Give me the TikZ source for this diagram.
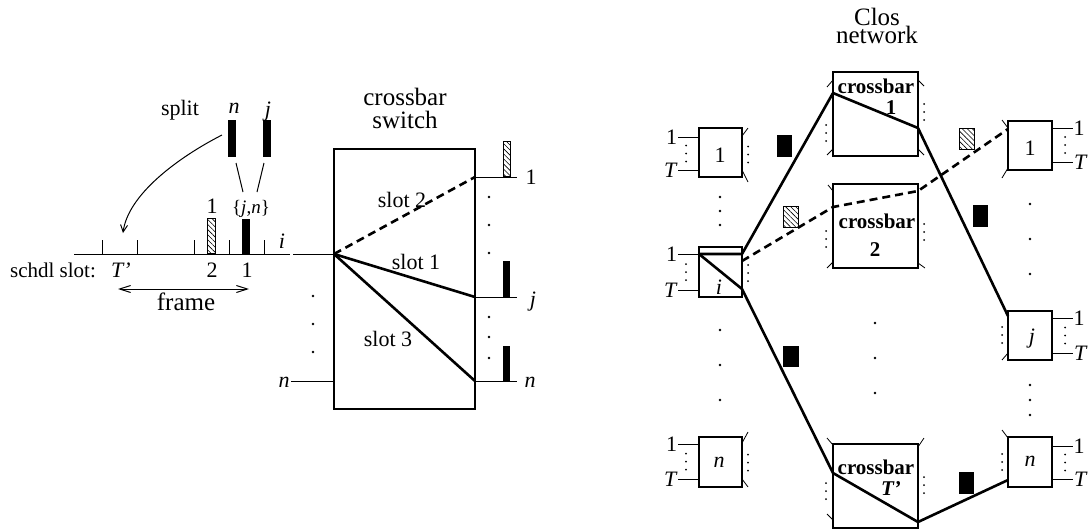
\documentclass[tikz,border=0pt]{standalone}
\usepackage{fontspec}
\setmainfont{Liberation Serif}
\usetikzlibrary{arrows.meta,patterns.meta}
\tikzset{
  wire/.style={line width=1pt},
  heavy/.style={line width=2.6pt, line join=round},
  heavydash/.style={line width=2.6pt, line join=round, dash pattern=on 8pt off 5pt},
  boxst/.style={draw, line width=1.2pt, inner sep=0pt},
  solidbar/.style={fill=black, inner sep=0pt},
  hatchbar/.style={draw, line width=0.7pt, inner sep=0pt, pattern={Lines[angle=-45,distance=3.6pt,line width=0.6pt]}},
  txt/.style={inner sep=0pt, font=\fontsize{22}{24}\selectfont},
  titletxt/.style={inner sep=0pt, align=center, font=\fontsize{25}{#1}\selectfont},
  boldtxt/.style={inner sep=0pt, font=\fontsize{21}{22}\selectfont\bfseries},
  tick/.style={line width=0.8pt},
  smalldots/.pic={\fill (0,-8) circle (1pt) (0,0) circle (1pt) (0,8) circle (1pt);}
}
\begin{document}
\begin{tikzpicture}[x=1pt,y=-1pt]
\useasboundingbox (0,0) rectangle (1088,531);

% ================= left: schedule axis =================
\coordinate (ax0) at (74,254);
\coordinate (ax1) at (290,254);
\draw[wire] (ax0) -- (ax1);
\foreach \t in {102,137,194,229,264} \draw[wire] (\t,240) -- (\t,254);
\node[hatchbar, minimum width=8, minimum height=35, anchor=south] (hq) at (211,254) {};
\node[solidbar, minimum width=8, minimum height=35, anchor=south] (bq) at (246,254) {};
\node[txt] (lab1h) at (212,206.5) {1};
\node[txt, font=\fontsize{19}{20}\selectfont] (labjn) at (251,209) {\{\textit{j},\textit{n}\}};
\node[txt] (labi) at (282,241.5) {\textit{i}};
\node[txt, font=\fontsize{21}{22}\selectfont] (schdl) at (53,270) {schdl slot:};
\node[txt] (labT) at (121,270) {\textit{T'}};
\node[txt] (lab2) at (212,270) {2};
\node[txt] (lab1b) at (247,270) {1};
\coordinate (fr0) at (118,289);
\coordinate (fr1) at (249,289);
\draw[wire, {Straight Barb[length=11pt,width=7pt]}-{Straight Barb[length=11pt,width=7pt]}] (fr0) -- (fr1);
\node[txt, font=\fontsize{25}{26}\selectfont] (frame) at (186,302) {frame};

% split
\node[txt] (split) at (180,110) {split};
\node[txt] (labn) at (234,108) {\textit{n}};
\node[txt] (labj) at (268,112) {\textit{j}};
\node[solidbar, minimum width=8, minimum height=37] (barn) at (232,138.5) {};
\node[solidbar, minimum width=8, minimum height=37] (barj) at (267,138.5) {};
\coordinate (sa0) at (236,163); \coordinate (sa1) at (243,192);
\coordinate (sb0) at (264,163); \coordinate (sb1) at (257,192);
\draw[wire] (sa0) -- (sa1);
\draw[wire] (sb0) -- (sb1);
\coordinate (cv0) at (222,135);
\coordinate (cv1) at (123,233);
\draw[wire, -{Straight Barb[length=7pt,width=7pt]}] (cv0) .. controls (177,158) and (128,195) .. (cv1);

% ================= crossbar switch =================
\node[boxst, minimum width=141, minimum height=260] (xs) at (404.5,279) {};
\node[titletxt=22.5] (xstitle) at (405,108.5) {crossbar\\switch};
\coordinate (iin) at (293,254);
\coordinate (nin) at (291,381);
\coordinate (xsi) at (334,254);
\coordinate (xsn) at (334,381);
\coordinate (xo1) at (475,177);
\coordinate (xoj) at (475,297);
\coordinate (xon) at (475,381);
\coordinate (xo1e) at (517,177);
\coordinate (xoje) at (517,297);
\coordinate (xone) at (517,381);
\draw[wire] (iin) -- (xsi);
\draw[wire] (nin) -- (xsn);
\draw[wire] (xo1) -- (xo1e);
\draw[wire] (xoj) -- (xoje);
\draw[wire] (xon) -- (xone);
\node[txt] (labnl) at (284,382) {\textit{n}};
\node[txt] (lo1) at (531,177) {1};
\node[txt] (loj) at (533,302) {\textit{j}};
\node[txt] (lon) at (530,382) {\textit{n}};
\node[hatchbar, minimum width=7, minimum height=35, anchor=south] (ob1) at (506.5,177) {};
\node[solidbar, minimum width=7, minimum height=36, anchor=south] (obj) at (506.5,297) {};
\node[solidbar, minimum width=7, minimum height=35, anchor=south] (obn) at (506.5,381) {};
\foreach \y in {296,324,352} \fill (313,\y) circle (1.3pt);
\foreach \y in {197,225,253,317,337,358} \fill (489,\y) circle (1.3pt);
\draw[heavydash] (xsi) -- (xo1);
\draw[heavy] (xsi) -- (xoj);
\draw[heavy] (xsi) -- (xon);
\node[txt] (s2) at (402,199.5) {slot 2};
\node[txt] (s1) at (416,262) {slot 1};
\node[txt] (s3) at (388,339) {slot 3};

% ================= Clos network =================
\node[titletxt=18.5] (clos) at (877,25.75) {Clos\\network};

% input modules
\node[boxst, minimum width=43, minimum height=49] (m1) at (720.5,152.5) {};
\node[boxst, minimum width=43, minimum height=50] (mi) at (720.5,272) {};
\node[boxst, minimum width=43, minimum height=50] (mn) at (720.5,462) {};
\node[txt] (m1l) at (720,155.5) {1};
\node[txt] (mil) at (719,287.5) {\textit{i}};
\node[txt] (mnl) at (719,462) {\textit{n}};
% input lines
\foreach \nm/\ya/\yb in {m1/137/170, mi/254/290, mn/444/479}{
  \draw[wire] (678,\ya) -- (699,\ya);
  \draw[wire] (678,\yb) -- (699,\yb);
  \node[txt] (\nm-l1) at (671.5,\ya) {1};
  \node[txt] (\nm-lT) at (671,\yb+0.5) {\textit{T}};
  \pic at (686,{(\ya+\yb)/2}) {smalldots};
  \pic at (748,{(\ya+\yb)/2+1}) {smalldots};
}
\draw[tick] (742,136) -- (748,128);
\draw[tick] (742,170) -- (748,182);
\draw[tick] (742,443) -- (748,432);
\draw[tick] (742,479) -- (748,487);
\foreach \y in {197,211,225,330,365,400} \fill (720,\y) circle (1.4pt);

% crossbars
\node[boxst, minimum width=85, minimum height=84] (xb1) at (875.5,114) {};
\node[boxst, minimum width=85, minimum height=84] (xb2) at (875.5,226) {};
\node[boxst, minimum width=85, minimum height=84] (xbt) at (875.5,486) {};
\node[boldtxt] (xb1a) at (876,86.5) {crossbar};
\node[boldtxt] (xb1b) at (891,107.5) {1};
\node[boldtxt] (xb2a) at (877,221) {crossbar};
\node[boldtxt] (xb2b) at (875,250) {2};
\node[boldtxt] (xbta) at (876,467) {crossbar};
\node[boldtxt] (xbtb) at (891,489) {\textit{T'}};
\pic at (826,133) {smalldots};
\pic at (924,112) {smalldots};
\pic at (826,239) {smalldots};
\pic at (924,232) {smalldots};
\pic at (826,491) {smalldots};
\pic at (924,485) {smalldots};
\draw[tick] (827,87) -- (833,80);
\draw[tick] (827,155) -- (833,149);
\draw[tick] (918,80) -- (924,86);
\draw[tick] (918,149) -- (924,155);
\draw[tick] (828,185) -- (833,191);
\draw[tick] (827,268) -- (833,262);
\draw[tick] (918,263) -- (925,268);
\draw[tick] (827,438) -- (833,445);
\draw[tick] (827,514) -- (833,520);
\draw[tick] (918,447) -- (924,438);
\foreach \y in {323,358,393} \fill (875,\y) circle (1.4pt);

% output modules
\node[boxst, minimum width=44, minimum height=49] (o1) at (1030,145.5) {};
\node[boxst, minimum width=44, minimum height=49] (oj) at (1030,335.5) {};
\node[boxst, minimum width=44, minimum height=50] (on) at (1030,462) {};
\node[txt] (o1l) at (1030,148.5) {1};
\node[txt] (ojl) at (1032,338.5) {\textit{j}};
\node[txt] (onl) at (1030,461) {\textit{n}};
\foreach \nm/\ya/\yb in {o1/128/162, oj/318/353, on/446/479}{
  \draw[wire] (1052,\ya) -- (1073,\ya);
  \draw[wire] (1052,\yb) -- (1073,\yb);
  \node[txt] (\nm-r1) at (1079,\ya+0.5) {1};
  \node[txt] (\nm-rT) at (1081,\yb+0.5) {\textit{T}};
  \pic at (1065,{(\ya+\yb)/2}) {smalldots};
}
\pic at (1002,335) {smalldots};
\pic at (1002,462) {smalldots};
\draw[tick] (1002,120) -- (1008,128);
\draw[tick] (1002,178) -- (1008,168);
\draw[tick] (1002,360) -- (1008,353);
\draw[tick] (1002,430) -- (1008,438);
\foreach \y in {204,239,274,385,400,415} \fill (1030,\y) circle (1.4pt);

% cells in Clos
\node[solidbar, minimum width=15, minimum height=22] (c1) at (784.5,146) {};
\node[hatchbar, minimum width=15, minimum height=21] (c2) at (790.5,216.5) {};
\node[solidbar, minimum width=15, minimum height=22] (c3) at (980.5,216) {};
\node[hatchbar, minimum width=15, minimum height=21] (c4) at (966.5,138.5) {};
\node[solidbar, minimum width=16, minimum height=21] (c5) at (791,356.5) {};
\node[solidbar, minimum width=15, minimum height=22] (c6) at (966.5,483) {};

% paths
\coordinate (pi0) at (699,254);
\coordinate (pi1) at (742,254);
\coordinate (pi2) at (742,289);
\coordinate (pid) at (742,261);
\coordinate (x1a) at (833,93);
\coordinate (x1b) at (918,128);
\coordinate (x2a) at (833,207);
\coordinate (x2b) at (918,191);
\coordinate (xta) at (833,473);
\coordinate (xtb) at (918,522);
\coordinate (oja) at (1008,316);
\coordinate (o1a) at (1008,129);
\coordinate (ona) at (1008,480);
\draw[heavy] (pi0) -- (pi1) -- (x1a) -- (x1b) -- (oja);
\draw[heavy] (pi0) -- (pi2) -- (xta) -- (xtb) -- (ona);
\draw[heavydash] (pid) -- (x2a) -- (x2b) -- (o1a);
\end{tikzpicture}
\end{document}
